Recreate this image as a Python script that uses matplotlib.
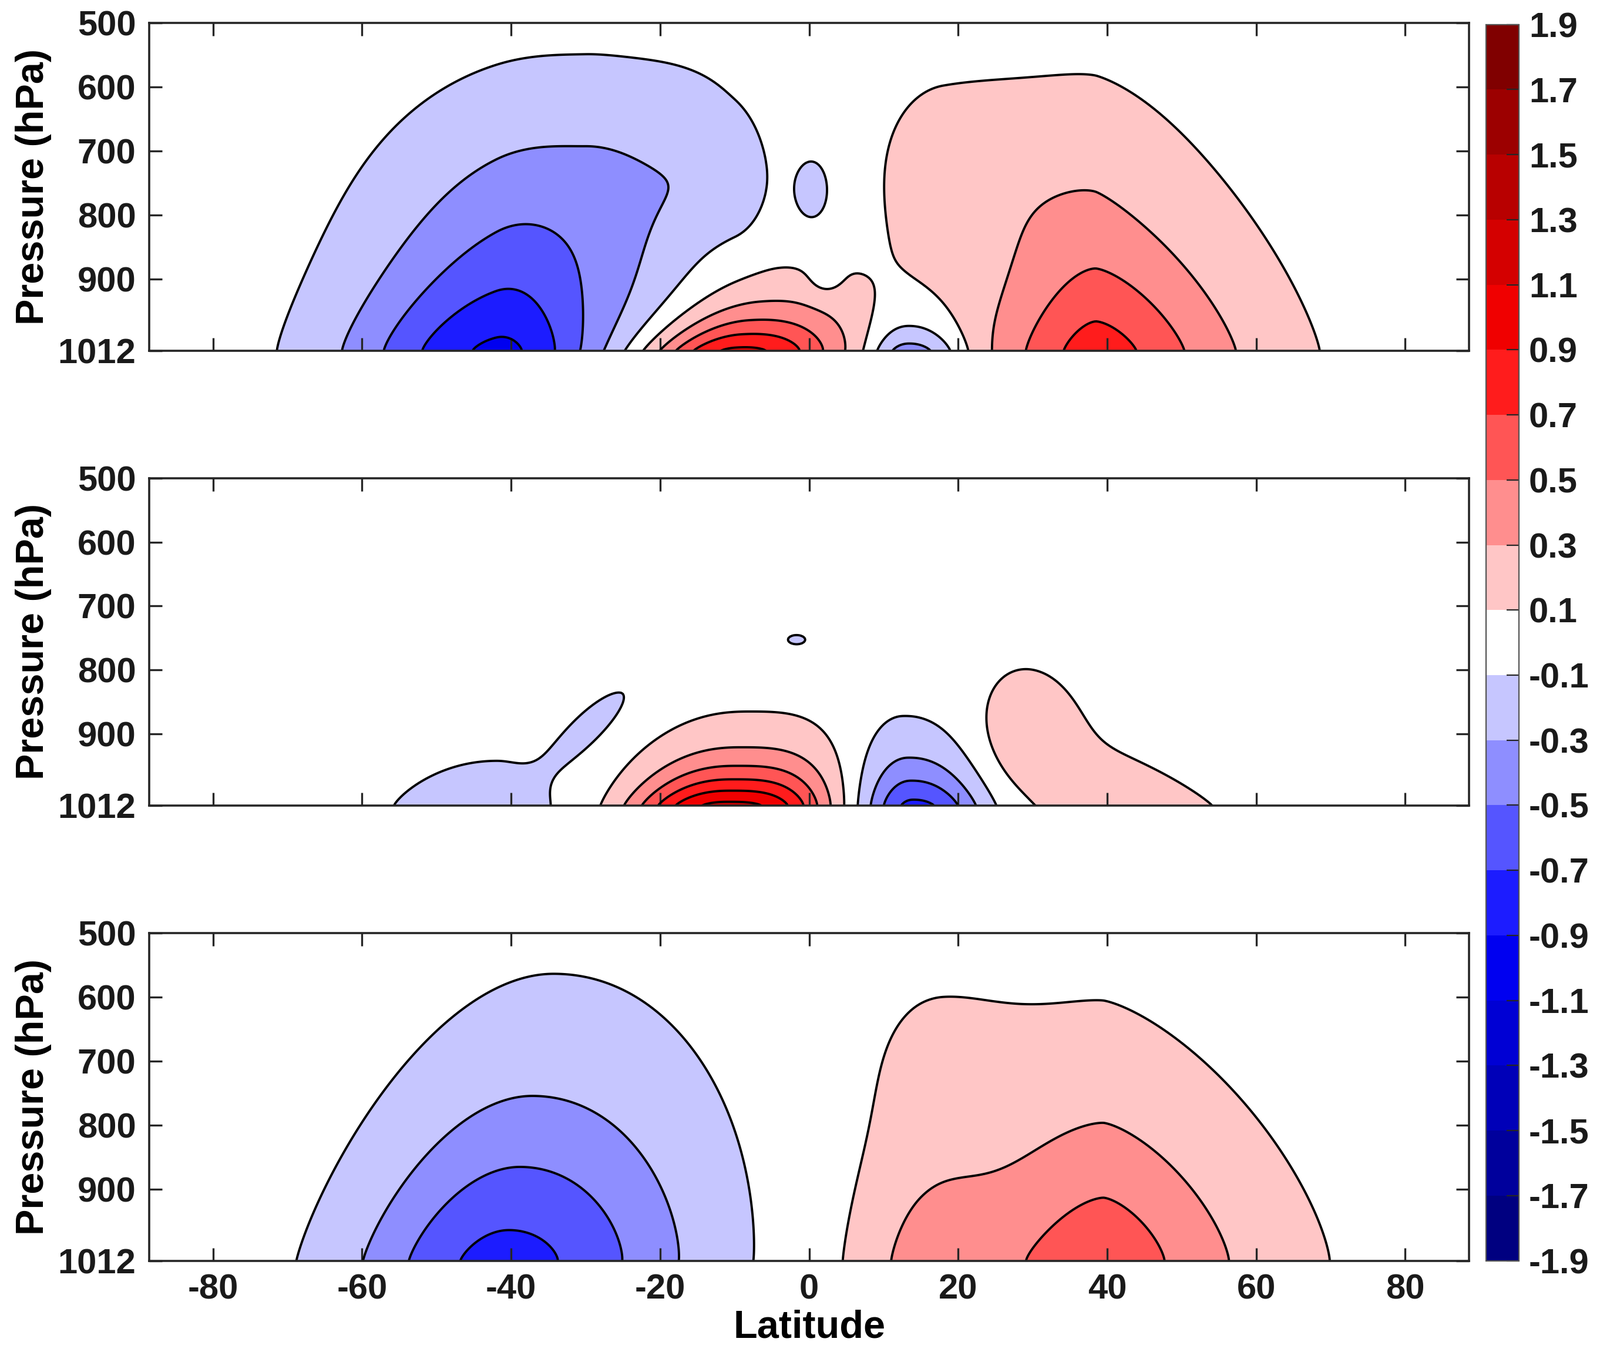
import numpy as np
import matplotlib.pyplot as plt
from matplotlib.colors import ListedColormap, BoundaryNorm
from matplotlib.cm import ScalarMappable

plt.rcParams["font.family"] = ["Liberation Sans", "DejaVu Sans"]
plt.rcParams["font.weight"] = "bold"
plt.rcParams["axes.unicode_minus"] = False

# === contour levels and colours (one colour per band, bottom to top) ===
LEVELS = [-1.9, -1.7, -1.5, -1.3, -1.1, -0.9, -0.7, -0.5, -0.3, -0.1,
          0.1, 0.3, 0.5, 0.7, 0.9, 1.1, 1.3, 1.5, 1.7, 1.9]
BAND_COLORS = ["#000080", "#00009c", "#0000b8", "#0000d4", "#0000f0",
               "#1c1cff", "#5555ff", "#8e8eff", "#c6c6ff", "#ffffff",
               "#ffc6c6", "#ff8e8e", "#ff5555", "#ff1c1c", "#f00000",
               "#d40000", "#b80000", "#9c0000", "#800000"]

LAT_TICKS = [-80, -60, -40, -20, 0, 20, 40, 60, 80]
P_TICKS = [500, 600, 700, 800, 900, 1012]

# === anomaly lobes ===
# lat0, p0 (hPa), amplitude, width left/right (deg), shape left/right,
# vertical depth (hPa), vertical shape, tilt (deg per hPa upward)
TOP_LOBES = [
    (-42.0, 1012, -0.78, 20.0, 12.0, 2.0, 2.0, 150, 1.25, 0.0),
    (-30.0, 830, -0.37, 24.0, 14.0, 2.0, 2.0, 239, 2.0, 0.0),
    (-10.0, 740, -0.21, 12.0, 4.5, 2.0, 2.0, 95, 2.0, 0.0),
    (-18.0, 620, -0.10, 8.0, 8.0, 2.0, 2.0, 60, 2.0, 0.0),
    (0.5, 765, -0.16, 3.5, 3.5, 2.0, 2.0, 75, 2.0, 0.0),
    (-10.0, 1012, 0.96, 11.5, 14.0, 2.1, 2.4, 71, 1.25, 0.045),
    (2.0, 905, -0.09, 2.5, 2.5, 2.0, 2.0, 30, 2.0, 0.0),
    (13.5, 1012, -0.50, 5.3, 7.0, 2.2, 2.2, 45, 1.25, 0.0),
    (38.5, 1012, 0.80, 15.0, 19.0, 1.6, 1.6, 222, 1.25, 0.0),
    (18.0, 730, 0.18, 9.0, 18.0, 2.0, 2.0, 150, 2.0, 0.0),
]
MID_LOBES = [
    (-42.0, 1012, -0.16, 20.0, 12.0, 2.0, 2.0, 128, 1.25, 0.0),
    (-28.5, 880, -0.16, 3.5, 3.0, 2.0, 2.0, 65, 2.0, 0.07),
    (-1.7, 753, -0.12, 3.5, 3.5, 2.0, 2.0, 22, 2.0, 0.0),
    (-11.0, 1012, 1.15, 12.5, 13.0, 2.4, 3.0, 72, 1.25, 0.02),
    (14.0, 1012, -0.75, 6.5, 9.0, 2.0, 2.3, 81, 1.25, -0.01),
    (29.0, 895, 0.20, 6.0, 6.0, 2.0, 2.0, 90, 2.0, 0.0),
    (40.0, 1012, 0.20, 10.0, 18.0, 2.0, 1.5, 140, 1.25, -0.05),
]
BOT_LOBES = [
    (-41.0, 1012, -0.765, 19.5, 24.5, 2.0, 2.0, 270, 1.4, 0.015),
    (39.5, 1012, 0.65, 21.0, 20.0, 1.6, 1.5, 255, 1.4, 0.0),
    (15.0, 1012, 0.22, 9.0, 10.0, 2.0, 2.0, 260, 1.25, 0.0),
    (18.0, 700, 0.07, 9.0, 15.0, 2.0, 2.0, 120, 2.0, 0.0),
]

lat = np.linspace(-88.6, 88.6, 709)
pres = np.linspace(500, 1012, 257)
LAT, P = np.meshgrid(lat, pres)


def build_field(lobes):
    field = np.zeros_like(LAT)
    for lat0, p0, amp, wl, wr, ql, qr, depth, qp, tilt in lobes:
        centre = lat0 + tilt * (p0 - P)
        dx = LAT - centre
        w = np.where(dx < 0, wl, wr)
        q = np.where(dx < 0, ql, qr)
        dp = np.abs(p0 - P)
        field += amp * np.exp(-(np.abs(dx) / w) ** q - (dp / depth) ** qp)
    return field


cmap = ListedColormap(BAND_COLORS)
norm = BoundaryNorm(LEVELS, cmap.N)
axis_col = "#262626"

fig = plt.figure(figsize=(13.62, 11.59), dpi=200)
bottoms = [0.7425, 0.4085, 0.0744]
panels = [TOP_LOBES, MID_LOBES, BOT_LOBES]

for i, (b, lobes) in enumerate(zip(bottoms, panels)):
    ax = fig.add_axes([0.0931, b, 0.8252, 0.2405])
    z = build_field(lobes)
    ax.contourf(LAT, P, z, levels=LEVELS, cmap=cmap, norm=norm)
    ax.contour(LAT, P, z, levels=LEVELS, colors="k", linewidths=1.4,
               linestyles="solid")
    ax.set_xlim(-88.6, 88.6)
    ax.set_ylim(1012, 500)
    ax.set_xticks(LAT_TICKS)
    ax.set_yticks(P_TICKS)
    ax.tick_params(direction="in", top=True, right=True, length=8, width=1.2,
                   labelsize=21.5, pad=8, colors=axis_col, labelcolor="#1a1a1a")
    for s in ax.spines.values():
        s.set_linewidth(1.3)
        s.set_color(axis_col)
    ax.set_ylabel("Pressure (hPa)", fontsize=24, fontweight="bold", labelpad=4)
    if i < 2:
        ax.set_xticklabels([])
    else:
        ax.set_xlabel("Latitude", fontsize=24, fontweight="bold", labelpad=2)

cax = fig.add_axes([0.9288, 0.0744, 0.0206, 0.9076])
cb = fig.colorbar(ScalarMappable(norm=norm, cmap=cmap), cax=cax, ticks=LEVELS)
cb.ax.set_yticklabels([f"{v:.1f}" for v in LEVELS])
cb.ax.tick_params(direction="in", length=7.5, width=0.8, labelsize=21.5,
                  pad=6, colors=axis_col, labelcolor="#1a1a1a")
cb.outline.set_linewidth(0.8)
cb.outline.set_edgecolor("#555555")

fig.savefig("out.png", dpi=200)
